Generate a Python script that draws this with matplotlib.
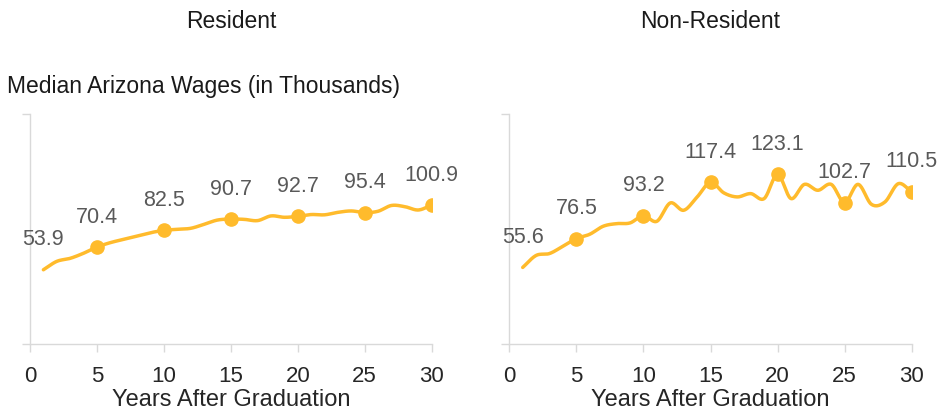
import numpy as np
import matplotlib
matplotlib.use("Agg")
import matplotlib.pyplot as plt

years = list(range(1, 31))
resident = [53.9, 60.0, 62.2, 65.9, 70.4, 73.6, 76.0, 78.4, 80.8, 82.5,
            83.3, 84.0, 86.9, 90.0, 90.7, 90.5, 89.6, 93.0, 92.0, 92.7,
            94.0, 93.8, 95.6, 96.6, 95.4, 96.4, 100.6, 99.7, 97.3, 100.9]
non_resident = [55.6, 64.3, 65.7, 71.0, 76.5, 79.7, 85.5, 87.4, 87.9, 93.2,
                89.1, 102.4, 97.1, 106.7, 117.4, 109.7, 106.8, 109.2, 105.6, 123.1,
                105.6, 115.9, 111.6, 115.9, 102.7, 115.9, 101.4, 103.1, 116.4, 110.5]
label_years = [1, 5, 10, 15, 20, 25, 30]
marker_years = [5, 10, 15, 20, 25, 30]
titles = ["Resident", "Non-Resident"]
xticks = [0, 5, 10, 15, 20, 25, 30]
xlabel = "Years After Graduation"
ylabel = "Median Arizona Wages (in Thousands)"

LINE = "#FFBB2C"
FONT = "Liberation Sans"


def catmull_rom(x, y, n=20):
    x = np.asarray(x, float)
    y = np.asarray(y, float)
    px = np.concatenate([[2 * x[0] - x[1]], x, [2 * x[-1] - x[-2]]])
    py = np.concatenate([[2 * y[0] - y[1]], y, [2 * y[-1] - y[-2]]])
    xs, ys = [], []
    t = np.linspace(0, 1, n, endpoint=False)
    for i in range(1, len(px) - 2):
        for arr, out in ((px, xs), (py, ys)):
            p0, p1, p2, p3 = arr[i - 1], arr[i], arr[i + 1], arr[i + 2]
            out.append(0.5 * ((2 * p1) + (-p0 + p2) * t
                              + (2 * p0 - 5 * p1 + 4 * p2 - p3) * t ** 2
                              + (-p0 + 3 * p1 - 3 * p2 + p3) * t ** 3))
    xs.append([x[-1]])
    ys.append([y[-1]])
    return np.concatenate(xs), np.concatenate(ys)


W, H = 939, 415
fig = plt.figure(figsize=(W / 100, H / 100), dpi=100)

panels = [(30, 431.7, resident), (509.3, 911.7, non_resident)]
bottom_px, top_px = 344, 114
for idx, (l, r, vals) in enumerate(panels):
    ax = fig.add_axes([l / W, 1 - bottom_px / H, (r - l) / W, (bottom_px - top_px) / H])
    sx, sy = catmull_rom(years, vals)
    ax.plot(sx, sy, color=LINE, lw=2.5, solid_capstyle="round", zorder=3)
    my = [vals[years.index(m)] for m in marker_years]
    ax.plot(marker_years, my, 'o', color=LINE, ms=9.5, zorder=4)
    for ly in label_years:
        v = vals[years.index(ly)]
        ax.annotate(f"{v:.1f}", (ly, v), xytext=(0, 21.5), textcoords="offset points",
                    ha="center", va="center", fontsize=15.5, color="#595959", family=FONT)
    ax.set_xlim(0, 30)
    ax.set_ylim(0, 167)
    ax.set_xticks(xticks)
    ax.set_xticklabels([str(t) for t in xticks], fontsize=16, color="#262626", family=FONT)
    ax.set_yticks([0, 167])
    ax.set_yticklabels([])
    ax.tick_params(axis="both", direction="out", length=6, color="#D9D9D9", width=1)
    ax.tick_params(axis="x", pad=10)
    for s in ("top", "right"):
        ax.spines[s].set_visible(False)
    for s in ("left", "bottom"):
        ax.spines[s].set_color("#D9D9D9")
        ax.spines[s].set_linewidth(1)
    ax.set_xlabel(xlabel, fontsize=17, color="#262626", family=FONT, labelpad=1.5)
    ax.set_facecolor("none")
    fig.text((l + r) / 2 / W, 1 - 21 / H, titles[idx], ha="center", va="center",
             fontsize=16.5, color="#1a1a1a", family=FONT)

fig.text(7 / W, 1 - 87 / H, ylabel, ha="left", va="center", fontsize=16.5,
         color="#1a1a1a", family=FONT)

fig.savefig("out.png", dpi=100)
